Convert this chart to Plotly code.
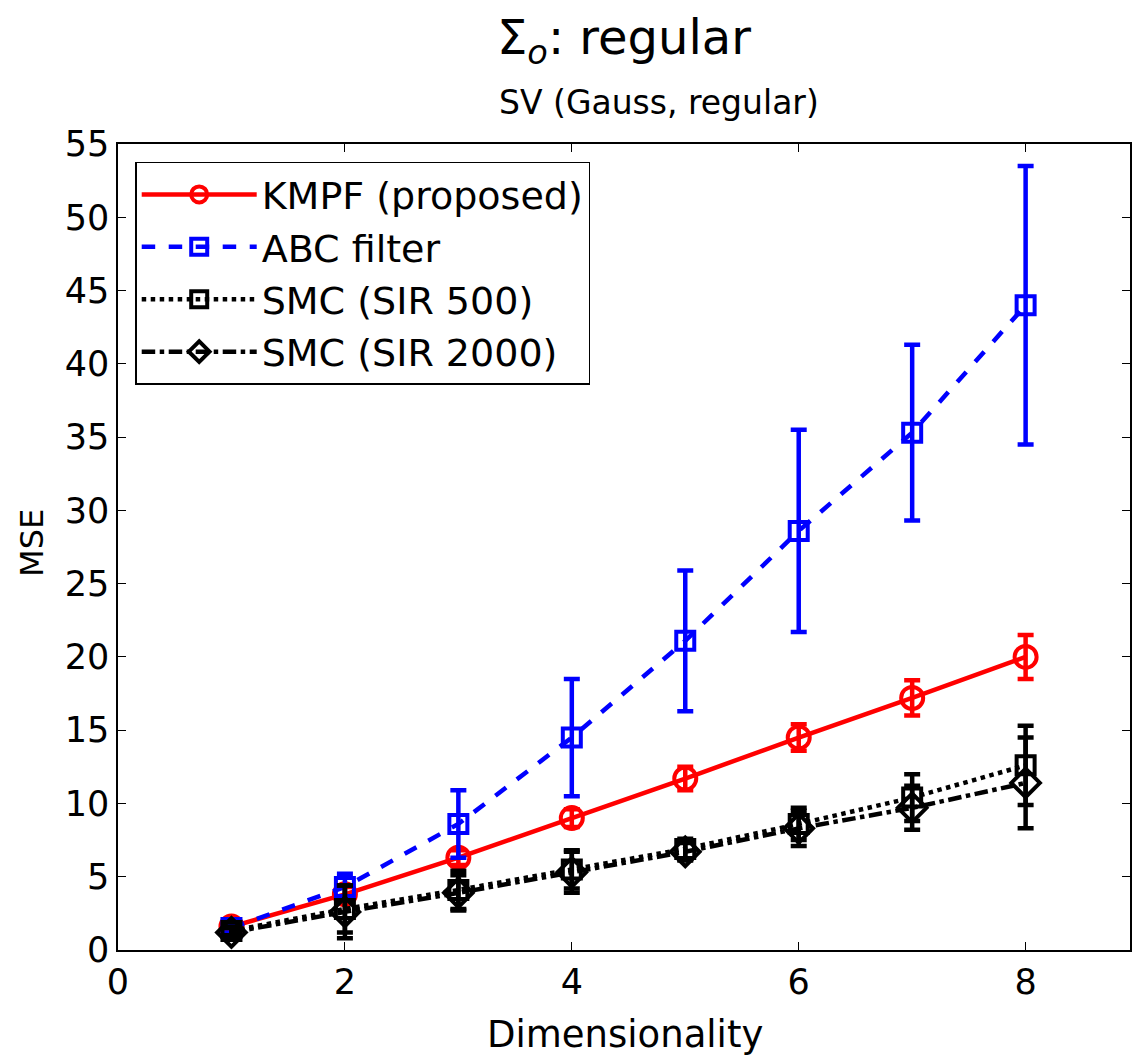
import plotly.graph_objects as go

dims = [1, 2, 3, 4, 5, 6, 7, 8]

kmpf = [1.6, 3.8, 6.3, 9.0, 11.7, 14.5, 17.2, 20.0]
kmpf_err = [0.3, 0.5, 0.5, 0.6, 0.8, 0.9, 1.2, 1.5]

abc = [1.5, 4.3, 8.6, 14.5, 21.1, 28.6, 35.3, 44.0]
abc_err = [0.3, 0.9, 2.3, 4.0, 4.8, 6.9, 6.0, 9.5]

smc500 = [1.3, 2.8, 4.1, 5.5, 6.9, 8.6, 10.4, 12.6]
smc500_err = [0.3, 1.6, 1.3, 1.3, 0.7, 1.1, 1.6, 2.7]

smc2000 = [1.2, 2.6, 3.9, 5.3, 6.7, 8.3, 9.7, 11.4]
smc2000_err = [0.3, 1.8, 1.2, 1.4, 0.6, 1.2, 1.5, 3.1]

FONT = "DejaVu Sans"

fig = go.Figure()

def add(name, y, err, color, dash, symbol, msize, width):
    fig.add_trace(go.Scatter(
        x=dims, y=y, name=name, mode="lines+markers",
        line=dict(color=color, width=width, dash=dash),
        marker=dict(symbol=symbol, size=msize, color=color,
                    line=dict(color=color, width=4)),
        error_y=dict(type="data", array=err, visible=True, color=color,
                     thickness=4.5, width=8),
    ))

add("KMPF (proposed)", kmpf, kmpf_err, "#ff0000", "solid", "circle-open", 22, 4.5)
add("ABC filter", abc, abc_err, "#0000ff", "dash", "square-open", 18, 4.5)
add("SMC (SIR 500)", smc500, smc500_err, "#000000", "dot", "square-open", 18, 4.5)
add("SMC (SIR 2000)", smc2000, smc2000_err, "#000000", "dashdot", "diamond-open", 22, 4.5)

fig.update_layout(
    width=1132, height=1058,
    margin=dict(l=118, r=0, t=144, b=108),
    paper_bgcolor="white", plot_bgcolor="white",
    font=dict(family=FONT, size=34, color="black"),
    showlegend=True,
    legend=dict(x=0.017, y=0.978, xanchor="left", yanchor="top",
                bordercolor="black", borderwidth=1.5, bgcolor="white",
                font=dict(size=38), itemwidth=115, tracegroupgap=0),
    xaxis=dict(range=[0, 8.92], tickvals=[0, 2, 4, 6, 8], ticks="inside",
               ticklen=8, tickcolor="black", showline=True, linecolor="black",
               linewidth=1.5, mirror="ticks", showgrid=False, zeroline=False,
               tickfont=dict(size=35)),
    yaxis=dict(range=[0, 55], dtick=5, ticks="inside", ticklen=8,
               tickcolor="black", showline=True, linecolor="black",
               linewidth=1.5, mirror="ticks", showgrid=False, zeroline=False,
               tickfont=dict(size=35)),
    annotations=[
        dict(text="Σ<sub><i>o</i></sub>: regular", x=0.5, y=1.129,
             xref="paper", yref="paper", showarrow=False,
             font=dict(size=48), xanchor="center", yanchor="middle"),
        dict(text="SV (Gauss, regular)", x=0.535, y=1.051,
             xref="paper", yref="paper", showarrow=False,
             font=dict(size=33), xanchor="center", yanchor="middle"),
        dict(text="Dimensionality", x=0.501, y=-0.105,
             xref="paper", yref="paper", showarrow=False,
             font=dict(size=37), xanchor="center", yanchor="middle"),
        dict(text="MSE", x=-0.085, y=0.505, textangle=-90,
             xref="paper", yref="paper", showarrow=False,
             font=dict(size=32), xanchor="center", yanchor="middle"),
    ],
)

fig.write_html("out.html")
